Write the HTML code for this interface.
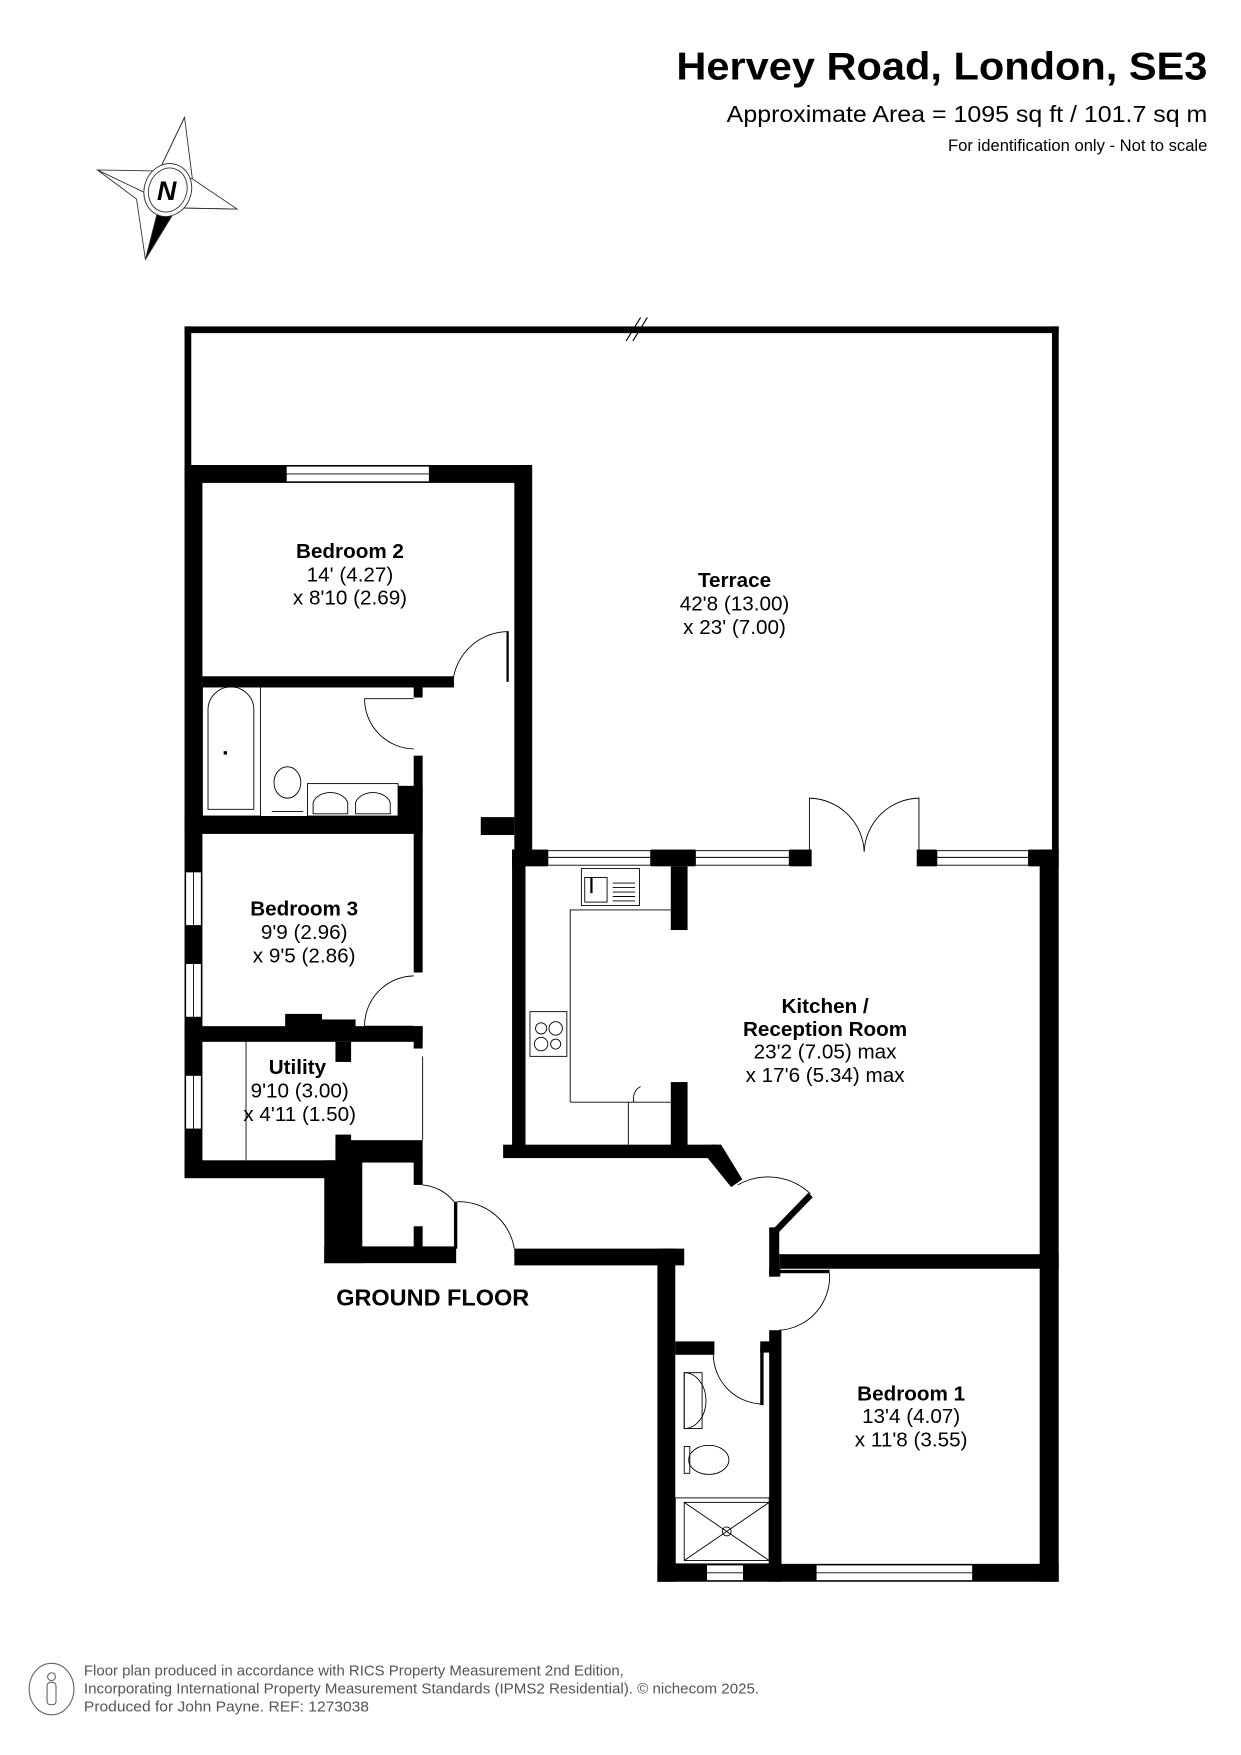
<!DOCTYPE html>
<html><head><meta charset="utf-8"><style>
html,body{margin:0;padding:0;background:#fff;}
svg{display:block;}
text{font-family:"Liberation Sans",Arial,sans-serif;}
</style></head><body>
<svg width="1241" height="1755" viewBox="0 0 1110 1570" xmlns="http://www.w3.org/2000/svg">
<rect width="1110" height="1570" fill="#fff"/>
<!-- Header -->
<text x="605" y="71" font-size="35" font-weight="bold" textLength="475" lengthAdjust="spacingAndGlyphs">Hervey Road, London, SE3</text>
<text x="650" y="109" font-size="21" textLength="430" lengthAdjust="spacingAndGlyphs">Approximate Area = 1095 sq ft / 101.7 sq m</text>
<text x="848" y="135" font-size="14.5" textLength="232" lengthAdjust="spacingAndGlyphs">For identification only - Not to scale</text>
<!-- Compass -->
<g stroke="#333" stroke-width="0.8" fill="#fff">
<polygon points="165,105 172,160 212,187 158,186 130,232 122,178 87,152 142,153"/>
<polyline points="165,105 142,153 172,160" fill="none"/>
<polyline points="87,152 158,186 212,187" fill="none"/>
<polygon points="130,232 142,185 158,186" fill="#000"/>
<ellipse cx="150" cy="170" rx="21" ry="24" transform="rotate(20 150 170)"/>
<ellipse cx="150" cy="170" rx="17" ry="20" transform="rotate(20 150 170)"/>
</g>
<text x="149" y="179" text-anchor="middle" font-size="24" font-weight="bold" font-style="italic">N</text>

<!-- Terrace outline -->
<g fill="#000">
<rect x="165" y="292" width="782" height="6"/>
<rect x="165" y="292" width="6" height="130"/>
<rect x="941" y="292" width="6" height="470"/>
</g>
<g stroke="#000" stroke-width="1"><line x1="560" y1="305" x2="573" y2="284"/><line x1="566" y1="305" x2="579" y2="284"/></g>

<!-- Walls -->
<g fill="#000">
<rect x="165" y="416" width="310" height="16"/>
<rect x="165" y="416" width="16" height="636"/>
<rect x="460" y="416" width="16" height="346"/>
<rect x="181" y="605" width="225" height="10"/>
<rect x="453" y="565" width="2" height="45"/>
<rect x="370" y="614" width="8" height="10"/>
<rect x="370" y="676" width="8" height="70"/>
<rect x="356" y="703" width="22" height="27"/>
<rect x="165" y="730" width="213" height="16"/>
<rect x="430" y="731" width="30" height="16"/>
<rect x="370" y="746" width="8" height="124"/>
<rect x="165" y="918" width="213" height="14"/>
<rect x="255" y="907" width="33" height="12"/>
<rect x="288" y="912" width="30" height="8"/>
<rect x="370" y="918" width="8" height="20"/>
<rect x="300" y="932" width="14" height="18"/>
<rect x="300" y="1015" width="14" height="25"/>
<rect x="300" y="1020" width="78" height="20"/>
<rect x="165" y="1038" width="155" height="16"/>
<rect x="290" y="1038" width="34" height="92"/>
<rect x="370" y="1038" width="8" height="22"/>
<rect x="370" y="1097" width="8" height="20"/>
<rect x="290" y="1115" width="118" height="15"/>
<rect x="406" y="1075" width="3" height="42"/>
<rect x="460" y="1117" width="152" height="15"/>
<rect x="458" y="760" width="12" height="272"/>
<rect x="458" y="760" width="32" height="15"/>
<rect x="582" y="760" width="40" height="15"/>
<rect x="706" y="760" width="20" height="15"/>
<rect x="820" y="760" width="18" height="15"/>
<rect x="920" y="760" width="27" height="15"/>
<rect x="930" y="760" width="17" height="655"/>
<rect x="600" y="775" width="15" height="57"/>
<rect x="600" y="968" width="15" height="60"/>
<rect x="450" y="1024" width="190" height="12"/>
<polygon points="636,1024 645,1024 664,1055 654,1062 633,1036"/>
<polygon points="723,1067 727,1071 697,1102 693,1098"/>
<polygon points="688,1098 697,1098 697,1142 688,1142"/>
<rect x="697" y="1122" width="250" height="13"/>
<rect x="688" y="1135" width="10" height="7"/>
<rect x="697" y="1136" width="45" height="3"/>
<rect x="588" y="1117" width="16" height="298"/>
<rect x="604" y="1200" width="35" height="12"/>
<rect x="680" y="1200" width="10" height="10"/>
<rect x="680" y="1205" width="3" height="52"/>
<rect x="688" y="1190" width="11" height="225"/>
<rect x="588" y="1399" width="359" height="16"/>
</g>

<!-- Windows -->
<g fill="#fff" stroke="#000" stroke-width="0.8">
<rect x="256" y="417" width="128" height="14"/>
<rect x="166" y="780" width="14" height="48"/>
<rect x="166" y="862" width="14" height="48"/>
<rect x="166" y="962" width="14" height="48"/>
<rect x="490" y="761" width="92" height="13"/>
<rect x="622" y="761" width="84" height="13"/>
<rect x="838" y="761" width="82" height="13"/>
<rect x="632" y="1400" width="33" height="14"/>
<rect x="730" y="1400" width="140" height="14"/>
</g>
<g stroke="#000" stroke-width="0.8">
<line x1="256" y1="424" x2="384" y2="424"/>
<line x1="173" y1="780" x2="173" y2="828"/><line x1="173" y1="862" x2="173" y2="910"/><line x1="173" y1="962" x2="173" y2="1010"/>
<line x1="490" y1="767" x2="582" y2="767"/><line x1="622" y1="767" x2="706" y2="767"/><line x1="838" y1="767" x2="920" y2="767"/>
<line x1="632" y1="1407" x2="665" y2="1407"/><line x1="730" y1="1407" x2="870" y2="1407"/>
</g>

<g fill="none" stroke="#000" stroke-width="0.8">
<path d="M405,610 A50,50 0 0 1 455,565"/>
<path d="M326,625 A45,45 0 0 0 370,670"/><line x1="326" y1="625" x2="370" y2="625"/>
<path d="M326,918 A45,45 0 0 1 370,873"/><line x1="326" y1="918" x2="370" y2="918"/>
<path d="M378,1060 A40,40 0 0 1 406,1075"/>
<path d="M409,1075 A50,50 0 0 1 460,1117"/>
<path d="M724,762 L724,714 A50,50 0 0 1 773,762"/>
<path d="M822,762 L822,714 A50,50 0 0 0 773,762"/>
<path d="M660,1060 A55,55 0 0 1 725,1068"/>
<path d="M742,1139 A48,48 0 0 1 697,1190"/>
<path d="M638,1212 A45,45 0 0 0 680,1256"/>
<line x1="220" y1="932" x2="220" y2="1038"/>
<line x1="378" y1="945" x2="378" y2="1020"/>
<polyline points="510,986 510,814 600,814"/>
<polyline points="510,986 600,986"/>
<line x1="562" y1="986" x2="562" y2="1024"/>
<path d="M567,986 A12,12 0 0 1 573,972"/>
<rect x="181" y="614" width="52" height="116"/>
<path d="M186,724 L186,635 A20,20 0 0 1 227,635 L227,724 Z"/>
<ellipse cx="257" cy="700" rx="12" ry="14"/>
<line x1="243" y1="726" x2="271" y2="726"/>
<rect x="275" y="701" width="81" height="29"/>
<path d="M280,728 L280,718 A16,12 0 0 1 311,718 L311,728 Z"/>
<path d="M318,728 L318,718 A16,12 0 0 1 349,718 L349,728 Z"/>
<rect x="520" y="777" width="52" height="33"/>
<rect x="523" y="785" width="20" height="22"/>
<rect x="474" y="905" width="33" height="40"/>
<circle cx="484" cy="920" r="5"/><circle cx="497" cy="920" r="6"/>
<circle cx="484" cy="934" r="6"/><circle cx="497" cy="934" r="4.5"/>
<path d="M612,1242 L612,1228 A14,18 0 0 1 612,1278 Z"/>
<rect x="612" y="1228" width="16" height="50"/>
<ellipse cx="634" cy="1306" rx="18" ry="13"/>
<rect x="612" y="1294" width="5" height="24"/>
<rect x="604" y="1340" width="84" height="59"/>
<rect x="612" y="1344" width="76" height="52"/>
<line x1="612" y1="1344" x2="688" y2="1396"/><line x1="688" y1="1344" x2="612" y2="1396"/>
<circle cx="650" cy="1370" r="4"/>
</g>
<g fill="#000">
<rect x="200" y="672" width="3" height="3"/>
<rect x="528" y="785" width="2" height="14"/>
<g stroke="#000" stroke-width="0.8"><line x1="548" y1="790" x2="568" y2="790"/><line x1="548" y1="794" x2="568" y2="794"/><line x1="548" y1="798" x2="568" y2="798"/><line x1="548" y1="802" x2="568" y2="802"/><line x1="548" y1="806" x2="568" y2="806"/></g>
</g>

<!-- Labels -->
<g text-anchor="middle" font-size="18.5">
<text x="313" y="499" font-weight="bold">Bedroom 2</text>
<text x="313" y="520">14' (4.27)</text>
<text x="313" y="541">x 8'10 (2.69)</text>
<text x="657" y="525" font-weight="bold">Terrace</text>
<text x="657" y="546">42'8 (13.00)</text>
<text x="657" y="567">x 23' (7.00)</text>
<text x="272" y="819" font-weight="bold">Bedroom 3</text>
<text x="272" y="840">9'9 (2.96)</text>
<text x="272" y="861">x 9'5 (2.86)</text>
<text x="266" y="961" font-weight="bold">Utility</text>
<text x="268" y="982">9'10 (3.00)</text>
<text x="268" y="1003">x 4'11 (1.50)</text>
<text x="738" y="906" font-weight="bold">Kitchen /</text>
<text x="738" y="927" font-weight="bold">Reception Room</text>
<text x="738" y="947">23'2 (7.05) max</text>
<text x="738" y="968">x 17'6 (5.34) max</text>
<text x="815" y="1253" font-weight="bold">Bedroom 1</text>
<text x="815" y="1273">13'4 (4.07)</text>
<text x="815" y="1294">x 11'8 (3.55)</text>
<text x="387" y="1168" font-size="21" font-weight="bold">GROUND FLOOR</text>
</g>

<!-- Footer -->
<g fill="#fff" stroke="#666" stroke-width="1">
<ellipse cx="46" cy="1511" rx="20" ry="23"/>
<circle cx="46" cy="1500" r="3.5"/>
<rect x="42" y="1505" width="8" height="20" rx="3"/>
</g>
<g font-size="13" fill="#555">
<text x="75" y="1499" textLength="483" lengthAdjust="spacingAndGlyphs">Floor plan produced in accordance with RICS Property Measurement 2nd Edition,</text>
<text x="75" y="1515" textLength="604" lengthAdjust="spacingAndGlyphs">Incorporating International Property Measurement Standards (IPMS2 Residential).   © nichecom 2025.</text>
<text x="75" y="1531" textLength="255" lengthAdjust="spacingAndGlyphs">Produced for John Payne.   REF:  1273038</text>
</g>
</svg>
</body></html>
